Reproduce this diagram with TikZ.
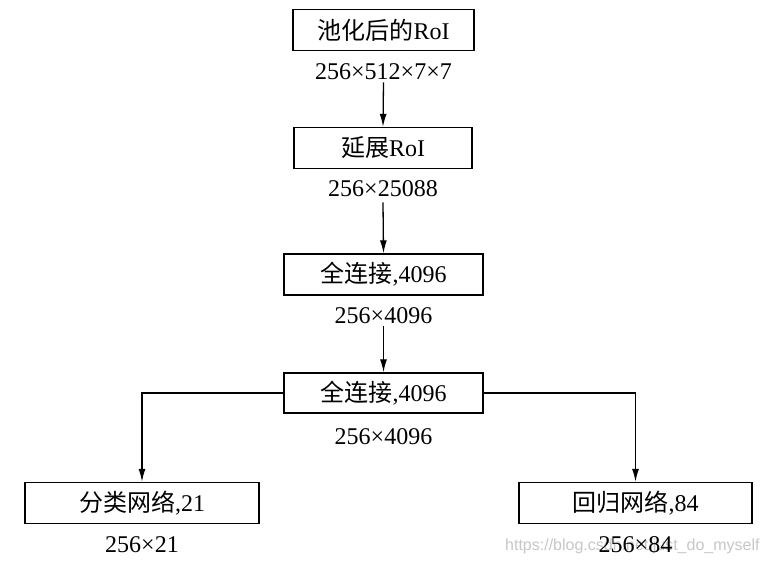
\documentclass[tikz,border=0pt]{standalone}
\usepackage{fontspec}
\setmainfont{Liberation Serif}
\newfontfamily\cjk{Noto Sans CJK SC}
\newfontfamily\wmfont{Liberation Sans}
\usetikzlibrary{arrows.meta}
\begin{document}
\begin{tikzpicture}[x=1pt,y=-1pt,
  box/.style={draw,line width=1.4pt,minimum height=41pt,inner sep=0pt,font=\fontsize{24}{26}\selectfont},
  lab/.style={font=\fontsize{24}{26}\selectfont,inner sep=1pt},
  arr/.style={line width=1.3pt,-{Latex[length=13pt,width=7pt]}},
  conn/.style={line width=1.3pt,-{Latex[length=13pt,width=7pt]}}]
\useasboundingbox (0,0) rectangle (771,566);
\fill[white] (0,0) rectangle (771,566);
\node[anchor=west,text=black!22,font=\wmfont\fontsize{16}{18}\selectfont,inner sep=0pt] (wm) at (505,546) {https://blog.csdn.net/just\_do\_myself};
\node[box,minimum width=181pt] (b1) at (383.5,30) {{\cjk 池化后的}RoI};
\node[lab] (l1) at (383.5,72) {256×512×7×7};
\node[box,minimum width=178pt] (b2) at (383,148) {{\cjk 延展}RoI};
\node[lab] (l2) at (383,189) {256×25088};
\node[box,minimum width=199pt] (b3) at (383.5,274.5) {{\cjk 全连接},4096};
\node[lab] (l3) at (383.5,316) {256×4096};
\node[box,minimum width=199pt,minimum height=40pt] (b4) at (383.5,393) {{\cjk 全连接},4096};
\node[lab] (l4) at (383.5,437) {256×4096};
\node[box,minimum width=234pt] (b5) at (142,503) {{\cjk 分类网络},21};
\node[lab] (l5) at (142,545) {256×21};
\node[box,minimum width=233pt] (b6) at (635.5,503) {{\cjk 回归网络},84};
\node[lab] (l6) at (635.5,545) {256×84};
\draw[arr] (l1.south) ++(0,1) coordinate (s1) -- (b2.north);
\draw[arr] (l2.south) ++(0,4) coordinate (s2) -- (b3.north);
\draw[arr] (l3.south) ++(0,1) coordinate (s3) -- (b4.north);
\draw[conn] (b4.west) -| (b5.north);
\draw[conn] (b4.east) -| (b6.north);
\end{tikzpicture}
\end{document}
